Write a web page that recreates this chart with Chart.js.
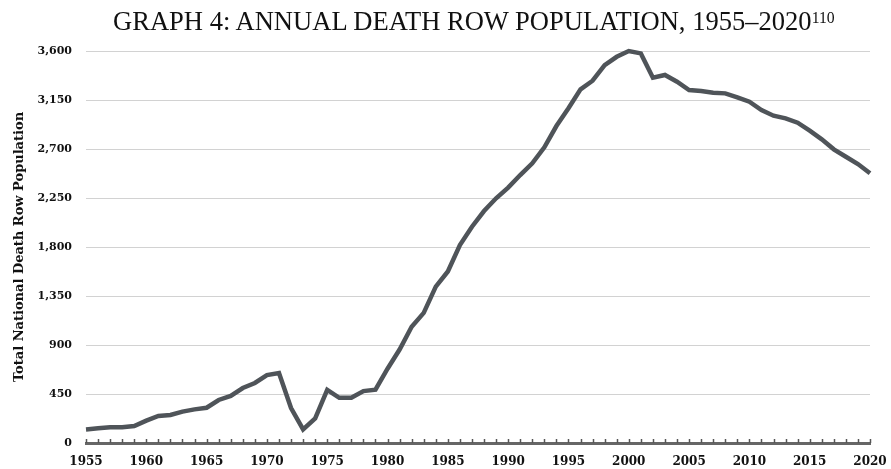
<!DOCTYPE html>
<html>
<head>
<meta charset="utf-8">
<script src="https://cdn.jsdelivr.net/npm/chart.js@4.4.1/dist/chart.umd.min.js"></script>
<style>
    html, body { margin: 0; padding: 0; background: #fff; }
    #wrap { position: relative; width: 891px; height: 469px; }
    #chartTitle {
        position: absolute; left: 113px; top: 8px;
        font-family: 'Liberation Serif', serif; font-size: 27px; line-height: 1;
        color: #111; white-space: nowrap; transform-origin: left top;
    }
    #chartTitle span { font-size: 16px; vertical-align: 7px; }
</style>
</head>
<body>
<div id="wrap">
    <canvas id="deathRow" width="891" height="469"></canvas>
    <div id="chartTitle">GRAPH 4: ANNUAL DEATH ROW POPULATION, 1955–2020<span>110</span></div>
</div>
<script>
// --- дані ---
const years = [
    1955, 1956, 1957, 1958, 1959, 1960, 1961, 1962, 1963, 1964,
    1965, 1966, 1967, 1968, 1969, 1970, 1971, 1972, 1973, 1974,
    1975, 1976, 1977, 1978, 1979, 1980, 1981, 1982, 1983, 1984,
    1985, 1986, 1987, 1988, 1989, 1990, 1991, 1992, 1993, 1994,
    1995, 1996, 1997, 1998, 1999, 2000, 2001, 2002, 2003, 2004,
    2005, 2006, 2007, 2008, 2009, 2010, 2011, 2012, 2013, 2014,
    2015, 2016, 2017, 2018, 2019, 2020
];
const population = [
    125, 135, 144, 144, 156, 205, 248, 257, 288, 309,
    324, 395, 432, 505, 551, 624, 643, 321, 125, 225,
    487, 415, 415, 477, 490, 682, 858, 1068, 1195, 1436,
    1575, 1818, 1986, 2130, 2247, 2345, 2461, 2569, 2716, 2911,
    3074, 3248, 3327, 3471, 3547, 3600, 3578, 3355, 3380, 3318,
    3242, 3233, 3217, 3211, 3174, 3134, 3058, 3006, 2982, 2942,
    2868, 2789, 2697, 2629, 2562, 2477
];
const yTicks = [0, 450, 900, 1350, 1800, 2250, 2700, 3150, 3600];
const yTitle = 'Total National Death Row Population';

const yTickFont = { family: "'DejaVu Serif', serif", size: 11, weight: 'bold' };
const xTickFont = { family: "'DejaVu Serif', serif", size: 12, weight: 'bold' };

// маленькі поділки над віссю X (кожен рік)
const innerTicks = {
    id: 'innerTicks',
    afterDraw(chart) {
        const x = chart.scales.x;
        const y0 = chart.chartArea.bottom;
        const ctx = chart.ctx;
        ctx.save();
        ctx.strokeStyle = '#555';
        ctx.lineWidth = 1.5;
        years.forEach(yr => {
            const px = Math.round(x.getPixelForValue(yr)) + 0.5;
            ctx.beginPath();
            ctx.moveTo(px, y0);
            ctx.lineTo(px, y0 - 4);
            ctx.stroke();
        });
        ctx.restore();
    }
};

new Chart(document.getElementById('deathRow'), {
    type: 'line',
    data: {
        datasets: [{
            data: years.map((yr, i) => ({ x: yr, y: population[i] })),
            borderColor: '#4f5459',
            borderWidth: 4.5,
            pointRadius: 0,
            tension: 0,
            fill: false,
            clip: false
        }]
    },
    options: {
        responsive: false,
        animation: false,
        layout: { padding: { top: 51, right: 21, left: 0, bottom: 0 } },
        plugins: { legend: { display: false }, tooltip: { enabled: false } },
        scales: {
            x: {
                type: 'linear',
                min: 1955, max: 2020,
                afterFit: s => { s.height = 26; s.paddingRight = 0; s.paddingLeft = 0; },
                grid: { display: true, drawOnChartArea: false, drawTicks: false },
                border: { display: true, color: '#666', width: 3 },
                ticks: {
                    stepSize: 5, padding: 12, color: '#111', font: xTickFont,
                    maxRotation: 0, callback: v => String(v)
                }
            },
            y: {
                min: 0, max: 3600,
                afterFit: s => { s.width = 86; },
                afterBuildTicks: s => { s.ticks = yTicks.map(v => ({ value: v })); },
                grid: { color: '#d2d2d2', lineWidth: 1, drawTicks: false },
                border: { display: false },
                ticks: {
                    padding: 14, color: '#111', font: yTickFont,
                    callback: v => v.toLocaleString('en-US')
                },
                title: {
                    display: true, text: yTitle, color: '#111',
                    font: { family: "'DejaVu Serif', serif", size: 13, weight: 'bold' },
                    padding: { top: 12, bottom: 0 }
                }
            }
        }
    },
    plugins: [innerTicks]
});

// підгін ширини заголовка під оригінал
const t = document.getElementById('chartTitle');
t.style.transform = `scaleX(${722 / t.offsetWidth})`;
</script>
</body>
</html>
